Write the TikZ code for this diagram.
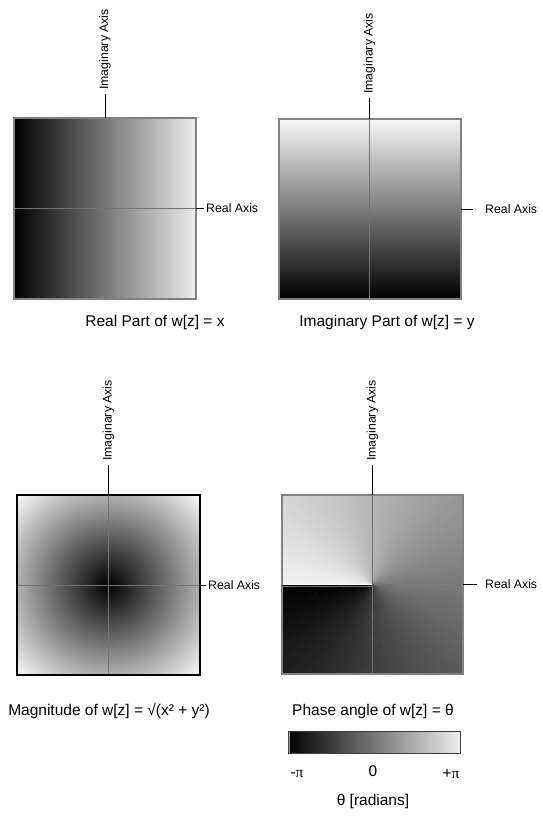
\documentclass[tikz,border=0pt]{standalone}
\usepackage{fontspec}
\setmainfont{Liberation Sans}
\newfontfamily\pifont{Liberation Serif}
\usetikzlibrary{calc}
\tikzstyle{plane}=[inner sep=0pt, outer sep=0pt]
\tikzstyle{frame}=[draw=black!50, line width=2pt]
\tikzstyle{axis} = [draw=black!55, line width=0.9pt]
\tikzstyle{tick} = [draw, line width=0.8pt]
\tikzstyle{axislabel} = [font=\fontsize{12.3}{14}\selectfont, inner sep=2pt]
\tikzstyle{caption} = [font=\fontsize{15.5}{18}\selectfont]
\pgfdeclareradialshading{modulus}{\pgfpoint{0bp}{0bp}}{color(0bp)=(black); color(36bp)=(white); color(50bp)=(white)}

\begin{document}
\begin{tikzpicture}[x=1pt,y=-1pt]
    \useasboundingbox[fill=white] (0,0) rectangle (543,816);
    % First we place the four planes
    \foreach \pos/\name/\w/\h in {{(105,208.5)/re/182/181},{(369.5,209)/im/182/180},{(108.5,585)/mod/183/180},{(372.5,584.5)/arg/181/179}}
        \node[plane, minimum width=\w pt, minimum height=\h pt] (\name) at \pos {};

    % Real part and imaginary part
    \shade[left color=black, right color=black!7] (re.south west) rectangle (re.north east);
    \draw[axis] (re.west) -- (re.east);
    \shade[top color=black!3, bottom color=black] (im.south west) rectangle (im.north east);
    \draw[axis] (im.north) -- (im.south);

    % Magnitude
    \shade[shading=modulus] (mod.south west) rectangle (mod.north east);
    \draw[axis] (mod.north) -- (mod.south);
    \draw[axis] (mod.west) -- (mod.east);

    % Phase angle, one thin wedge per two degrees
    \begin{scope}
        \clip (arg.south west) rectangle (arg.north east);
        \foreach \a in {-180,-178,...,178} {
            \pgfmathsetmacro\lev{100-(179-\a)/360*95}
            \filldraw[fill=black!\lev, draw=black!\lev, line width=0.5pt] (arg.center) -- +(\a:200) -- +(\a+2:200) -- cycle;
        }
    \end{scope}
    \draw[white, line width=1.4pt] (arg.west) -- (arg.center);
    \draw[axis] ([yshift=-1.5pt]arg.west) -- ([yshift=-1.5pt]arg.center);
    \draw[axis] (arg.north) -- (arg.south);

    % Frames
    \foreach \name in {re,im,arg}
        \draw[frame] (\name.south west) rectangle (\name.north east);
    \draw[frame, draw=black, line width=2.6pt] (mod.south west) rectangle (mod.north east);

    % Axis labels and their ticks
    \foreach \name/\ipos/\rpos/\gap in {re/{(105,92)}/{(204,208.5)}/0, im/{(369.5,96)}/{(483,209)}/10, mod/{(108.5,463)}/{(206,585)}/0, arg/{(372.5,463)}/{(483,584.5)}/6} {
        \node[axislabel, rotate=90, anchor=west] (\name I) at \ipos {Imaginary Axis};
        \node[axislabel, anchor=west] (\name R) at \rpos {Real Axis};
        \path[tick, shorten >=2pt] (\name.north) -- (\name I.west);
        \path[tick, shorten >=\gap pt] (\name.east) -- (\name R.west);
    }

    % Captions
    \node[caption] (reC) at (155,322) {Real Part of w[z] = x};
    \node[caption] (imC) at (387,322) {Imaginary Part of w[z] = y};
    \node[caption] (modC) at (109,711) {Magnitude of w[z] = √(x² + y²)};
    \node[caption] (argC) at (373,711) {Phase angle of w[z] = θ};

    % Colour bar for the phase angle
    \node[plane, minimum width=172pt, minimum height=22pt] (bar) at (374,742) {};
    \shade[left color=black, right color=black!7] (bar.south west) rectangle (bar.north east);
    \draw[black!35, line width=1pt] ([xshift=1.5pt]bar.south west) -- ([xshift=1.5pt]bar.north west);
    \draw[black!75, line width=0.8pt] (bar.south west) rectangle (bar.north east);
    \node[caption] (mpi) at (297,774) {-{\pifont π}};
    \node[caption] (zero) at (373,771) {0};
    \node[caption] (ppi) at (451,774) {+{\pifont π}};
    \node[caption] (unit) at (373,801) {θ [radians]};
\end{tikzpicture}
\end{document}
